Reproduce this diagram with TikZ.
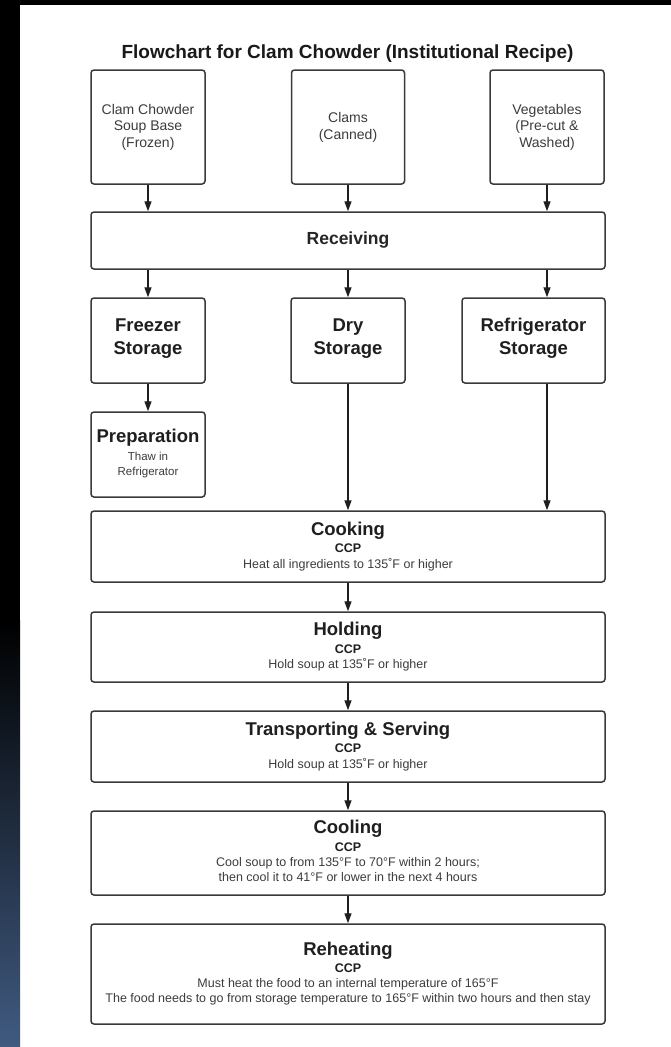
\documentclass[tikz,border=0pt]{standalone}
\usepackage{fontspec}
\setmainfont{Liberation Sans}
\usetikzlibrary{arrows.meta}
\definecolor{stripblue}{RGB}{64,90,128}
\definecolor{boxline}{RGB}{58,58,58}
\definecolor{txtgray}{RGB}{60,60,60}
\tikzset{
  box/.style={draw=boxline, line width=1.5pt, rounded corners=3pt, fill=white, inner sep=0pt},
  arr/.style={-{Triangle[length=10pt,width=7pt]}, line width=1.4pt, draw=black!88},
  ttl/.style={anchor=base, inner sep=0pt, font=\fontsize{19}{21}\selectfont\bfseries, text=black!90},
  hd/.style={anchor=base, inner sep=0pt, font=\fontsize{18.5}{20}\selectfont\bfseries, text=black!88},
  rcv/.style={anchor=base, inner sep=0pt, font=\fontsize{17.5}{20}\selectfont\bfseries, text=black!85},
  ccp/.style={anchor=base, inner sep=0pt, font=\fontsize{12.5}{14}\selectfont\bfseries, text=black!88},
  desc/.style={anchor=base, inner sep=0pt, font=\fontsize{12.5}{14}\selectfont, text=txtgray},
  src/.style={anchor=base, inner sep=0pt, font=\fontsize{14}{16}\selectfont, text=txtgray},
  small/.style={anchor=base, inner sep=0pt, font=\fontsize{11.5}{13}\selectfont, text=txtgray},
}
\begin{document}
\begin{tikzpicture}[x=1pt,y=-1pt]
\useasboundingbox (0,0) rectangle (671,1047);
\fill[white] (0,0) rectangle (671,1047);
\fill[black] (0,0) rectangle (20,620);
\shade[top color=black,bottom color=stripblue] (0,620) rectangle (20,1047);
\fill[black] (0,0) rectangle (671,5);

% title
\node[ttl] (title) at (347.5,58) {Flowchart for Clam Chowder (Institutional Recipe)};

% boxes
\node[box, minimum width=114pt, minimum height=114pt] (b1) at (148,127) {};
\node[box, minimum width=113pt, minimum height=114pt] (b2) at (348,127) {};
\node[box, minimum width=114pt, minimum height=114pt] (b3) at (547,127) {};
\node[box, minimum width=514pt, minimum height=57pt] (recv) at (348,240.5) {};
\node[box, minimum width=114pt, minimum height=85pt] (frz) at (148,340.5) {};
\node[box, minimum width=114pt, minimum height=85pt] (dry) at (348,340.5) {};
\node[box, minimum width=143pt, minimum height=85pt] (ref) at (533.5,340.5) {};
\node[box, minimum width=114pt, minimum height=85pt] (prep) at (148,454.5) {};
\node[box, minimum width=514pt, minimum height=71pt] (cook) at (348,546.5) {};
\node[box, minimum width=514pt, minimum height=70pt] (hold) at (348,647) {};
\node[box, minimum width=514pt, minimum height=71pt] (trans) at (348,746.5) {};
\node[box, minimum width=514pt, minimum height=84pt] (cool) at (348,853) {};
\node[box, minimum width=514pt, minimum height=100pt] (reh) at (348,974) {};

% texts
\node[src] (b1a) at (148,114) {Clam Chowder};
\node[src] (b1b) at (148,130.5) {Soup Base};
\node[src] (b1c) at (148,147) {(Frozen)};
\node[src] (b2a) at (348,122) {Clams};
\node[src] (b2b) at (348,139) {(Canned)};
\node[src] (b3a) at (547,114) {Vegetables};
\node[src] (b3b) at (547,130.5) {(Pre-cut \&};
\node[src] (b3c) at (547,147) {Washed)};

\node[rcv] (recvt) at (348,244.3) {Receiving};

\node[hd] (frza) at (148,331.7) {Freezer};
\node[hd] (frzb) at (148,354) {Storage};
\node[hd] (drya) at (348,331.7) {Dry};
\node[hd] (dryb) at (348,354) {Storage};
\node[hd] (refa) at (533.5,331.7) {Refrigerator};
\node[hd] (refb) at (533.5,354) {Storage};

\node[hd] (prepa) at (148,442.3) {Preparation};
\node[small] (prepb) at (148,460) {Thaw in};
\node[small] (prepc) at (148,475.7) {Refrigerator};

\node[hd] (cooka) at (348,535) {Cooking};
\node[ccp] (cookb) at (348,552.5) {CCP};
\node[desc] (cookc) at (348,568.3) {Heat all ingredients to 135˚F or higher};

\node[hd] (holda) at (348,635.5) {Holding};
\node[ccp] (holdb) at (348,653) {CCP};
\node[desc] (holdc) at (348,668.5) {Hold soup at 135˚F or higher};

\node[hd] (transa) at (348,735) {Transporting \& Serving};
\node[ccp] (transb) at (348,752.5) {CCP};
\node[desc] (transc) at (348,768) {Hold soup at 135˚F or higher};

\node[hd] (coola) at (348,833.5) {Cooling};
\node[ccp] (coolb) at (348,851) {CCP};
\node[desc] (coolc) at (348,866.7) {Cool soup to from 135°F to 70°F within 2 hours;};
\node[desc] (coold) at (348,881.7) {then cool it to 41°F or lower in the next 4 hours};

\node[hd] (reha) at (348,955.7) {Reheating};
\node[ccp] (rehb) at (348,972.7) {CCP};
\node[desc] (rehc) at (348,987.3) {Must heat the food to an internal temperature of 165°F};
\node[desc] (rehd) at (348,1002.7) {The food needs to go from storage temperature to 165°F within two hours and then stay};

% connectors
\draw[arr] (b1.south) -- (b1.south |- recv.north);
\draw[arr] (b2.south) -- (b2.south |- recv.north);
\draw[arr] (b3.south) -- (b3.south |- recv.north);
\draw[arr] (recv.south -| frz.north) -- (frz.north);
\draw[arr] (recv.south -| dry.north) -- (dry.north);
\draw[arr] (recv.south -| b3.south) -- (ref.north -| b3.south);
\draw[arr] (frz.south) -- (prep.north);
\draw[arr] (dry.south) -- (dry.south |- cook.north);
\draw[arr] (ref.south -| b3.south) -- (cook.north -| b3.south);
\draw[arr] (cook.south) -- (hold.north);
\draw[arr] (hold.south) -- (trans.north);
\draw[arr] (trans.south) -- (cool.north);
\draw[arr] (cool.south) -- (reh.north);
\end{tikzpicture}
\end{document}
